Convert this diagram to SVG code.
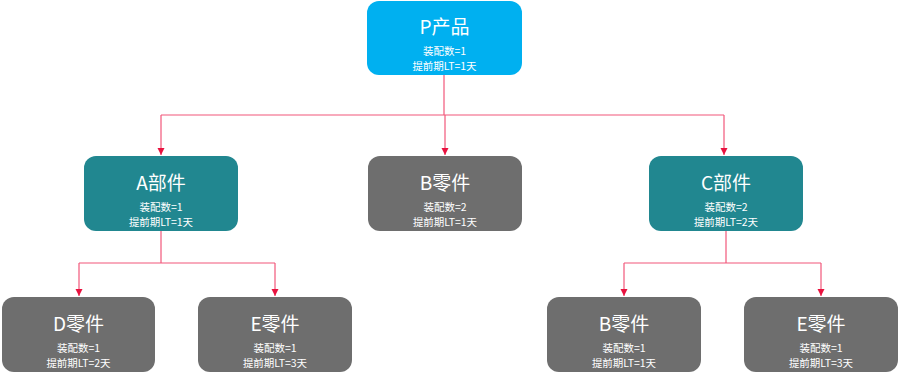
<svg xmlns="http://www.w3.org/2000/svg" width="899" height="375" viewBox="0 0 899 375">
<defs>
<marker id="arr" markerWidth="8" markerHeight="8" refX="7" refY="4" orient="auto" markerUnits="userSpaceOnUse">
<path d="M0,0.5 L7,4 L0,7.5 Z" fill="#e8123f"/>
</marker>
</defs>
<style>
.blue{fill:#00b0f0}
.teal{fill:#218790}
.gray{fill:#6e6e6e}
.t{font-family:"Noto Sans CJK SC","Liberation Sans",sans-serif;font-size:19px;fill:#ffffff;text-anchor:middle}
.s{font-family:"Noto Sans CJK SC","Liberation Sans",sans-serif;font-size:10.5px;fill:#ffffff;text-anchor:middle}
.c{fill:none;stroke:#f2577a;stroke-width:1.2}
</style>
<rect width="899" height="375" fill="#ffffff"/>
<g id="connectors">
<path class="c" d="M444,75 V115"/>
<path class="c" d="M161,115 H724"/>
<path class="c" d="M161,115 V155" marker-end="url(#arr)"/>
<path class="c" d="M445,115 V155" marker-end="url(#arr)"/>
<path class="c" d="M724,115 V155" marker-end="url(#arr)"/>
<path class="c" d="M161,231 V263"/>
<path class="c" d="M79,263 H275"/>
<path class="c" d="M79,263 V296" marker-end="url(#arr)"/>
<path class="c" d="M275,263 V296" marker-end="url(#arr)"/>
<path class="c" d="M726,231 V263"/>
<path class="c" d="M624,263 H821"/>
<path class="c" d="M624,263 V296" marker-end="url(#arr)"/>
<path class="c" d="M821,263 V296" marker-end="url(#arr)"/>
</g>
<g id="P">
<rect class="blue" x="367" y="1" width="155" height="74" rx="12"/>
<text class="t" x="444.5" y="34">P产品</text>
<text class="s" x="444.5" y="55">装配数=1</text>
<text class="s" x="444.5" y="69.5">提前期LT=1天</text>
</g>
<g id="A">
<rect class="teal" x="84" y="156" width="154" height="75" rx="12"/>
<text class="t" x="161" y="190">A部件</text>
<text class="s" x="161" y="211">装配数=1</text>
<text class="s" x="161" y="225.5">提前期LT=1天</text>
</g>
<g id="B1">
<rect class="gray" x="368" y="156" width="154" height="75" rx="12"/>
<text class="t" x="445" y="190">B零件</text>
<text class="s" x="445" y="211">装配数=2</text>
<text class="s" x="445" y="225.5">提前期LT=1天</text>
</g>
<g id="C">
<rect class="teal" x="649" y="156" width="154" height="75" rx="12"/>
<text class="t" x="726" y="190">C部件</text>
<text class="s" x="726" y="211">装配数=2</text>
<text class="s" x="726" y="225.5">提前期LT=2天</text>
</g>
<g id="D">
<rect class="gray" x="2" y="297" width="153" height="75" rx="12"/>
<text class="t" x="78.5" y="331">D零件</text>
<text class="s" x="78.5" y="352">装配数=1</text>
<text class="s" x="78.5" y="366.5">提前期LT=2天</text>
</g>
<g id="E1">
<rect class="gray" x="198" y="297" width="154" height="75" rx="12"/>
<text class="t" x="275" y="331">E零件</text>
<text class="s" x="275" y="352">装配数=1</text>
<text class="s" x="275" y="366.5">提前期LT=3天</text>
</g>
<g id="B2">
<rect class="gray" x="547" y="297" width="154" height="75" rx="12"/>
<text class="t" x="624" y="331">B零件</text>
<text class="s" x="624" y="352">装配数=1</text>
<text class="s" x="624" y="366.5">提前期LT=1天</text>
</g>
<g id="E2">
<rect class="gray" x="744" y="297" width="154" height="75" rx="12"/>
<text class="t" x="821" y="331">E零件</text>
<text class="s" x="821" y="352">装配数=1</text>
<text class="s" x="821" y="366.5">提前期LT=3天</text>
</g>
</svg>
